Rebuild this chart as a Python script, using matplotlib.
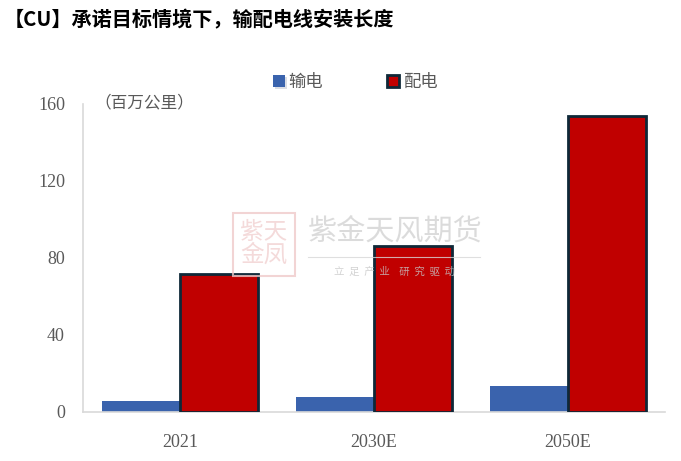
import matplotlib
matplotlib.use("Agg")
import matplotlib.pyplot as plt
import numpy as np
from matplotlib.patches import Rectangle
from matplotlib import patheffects as pe

categories = ["2021", "2030E", "2050E"]
transmission = [5.5, 7.4, 13.3]      # 输电
distribution = [71.5, 86.0, 154.0]   # 配电
yticks = [0, 40, 80, 120, 160]
title = "【CU】承诺目标情境下，输配电线安装长度"
unit = "（百万公里）"
series_names = ["输电", "配电"]

CJK = ["Noto Sans CJK SC", "DejaVu Sans"]
SERIF = ["Liberation Serif", "DejaVu Serif"]
GRAY = "#595959"
BLUE = "#3A63AD"
RED = "#C00000"
EDGE = "#0E2838"

W, H = 681, 461
fig = plt.figure(figsize=(W / 100, H / 100), dpi=100)
ax = fig.add_axes([83 / W, (H - 411.5) / H, (665 - 83) / W, (411.5 - 104) / H])

x = np.arange(len(categories))
bw = 0.4
b1 = ax.bar(x - bw / 2, transmission, width=bw, color=BLUE, zorder=2,
            label=series_names[0])
for p in b1:
    p.set_path_effects([pe.SimplePatchShadow(offset=(1.5, -1.5), shadow_rgbFace="#b8bfcc", alpha=0.5),
                        pe.Normal()])
b2 = ax.bar(x + bw / 2, distribution, width=bw, color=RED, edgecolor=EDGE,
            linewidth=2.0, zorder=3, label=series_names[1])

ax.set_xlim(-0.5, len(categories) - 0.5)
ax.set_ylim(0, 160)
ax.set_yticks(yticks)
ax.set_yticklabels([str(v) for v in yticks], family=SERIF, fontsize=13, color=GRAY)
ax.set_xticks(x)
ax.set_xticklabels(categories, family=SERIF, fontsize=13, color=GRAY)
ax.tick_params(axis="both", length=0)
ax.tick_params(axis="y", pad=13)
ax.tick_params(axis="x", pad=16)
for s in ["top", "right"]:
    ax.spines[s].set_visible(False)
for s in ["left", "bottom"]:
    ax.spines[s].set_color("#D9D9D9")
    ax.spines[s].set_linewidth(1.2)

# Title
fig.text(4 / W, 1 - 20 / H, title, family=CJK, fontsize=14.5, fontweight="bold",
         color="#000000", ha="left", va="center")

# Unit label
fig.text(94 / W, 1 - 103 / H, unit, family=CJK, fontsize=12, color=GRAY,
         ha="left", va="center")

# Legend
leg = fig.legend(handles=[b1, b2], labels=series_names, loc="center left",
                 bbox_to_anchor=(257 / W, 1 - 82 / H), ncol=2, frameon=False,
                 prop={"family": CJK, "size": 12.5}, handlelength=0.7,
                 handleheight=0.7, handletextpad=0.2, columnspacing=3.7,
                 labelcolor=GRAY)

# Watermark
fig.text(308 / W, 1 - 232 / H, "紫金天风期货", family=CJK, fontsize=21,
         color="#d0d0d0", alpha=0.75, ha="left", va="center", zorder=10)
fig.add_artist(plt.Line2D([308 / W, 480 / W], [1 - 257 / H, 1 - 257 / H],
                          color="#d8d8d8", lw=0.8, alpha=0.8, zorder=10))
fig.text(394 / W, 1 - 272 / H, "立  足  产  业    研  究  驱  动", family=CJK,
         fontsize=7.5, color="#c8c8c8", alpha=0.8, ha="center", va="center", zorder=10)
fig.add_artist(Rectangle((233 / W, 1 - 276 / H), 62 / W, 63 / H,
                         transform=fig.transFigure, facecolor="none",
                         edgecolor="#efcaca", lw=1.5, alpha=0.8, zorder=10))
fig.text(264 / W, 1 - 244 / H, "紫天\n金凤", family=CJK, fontsize=17,
         color="#ebbcbc", alpha=0.55, ha="center", va="center", linespacing=1.0,
         zorder=10)

fig.savefig("out.png", dpi=100)
